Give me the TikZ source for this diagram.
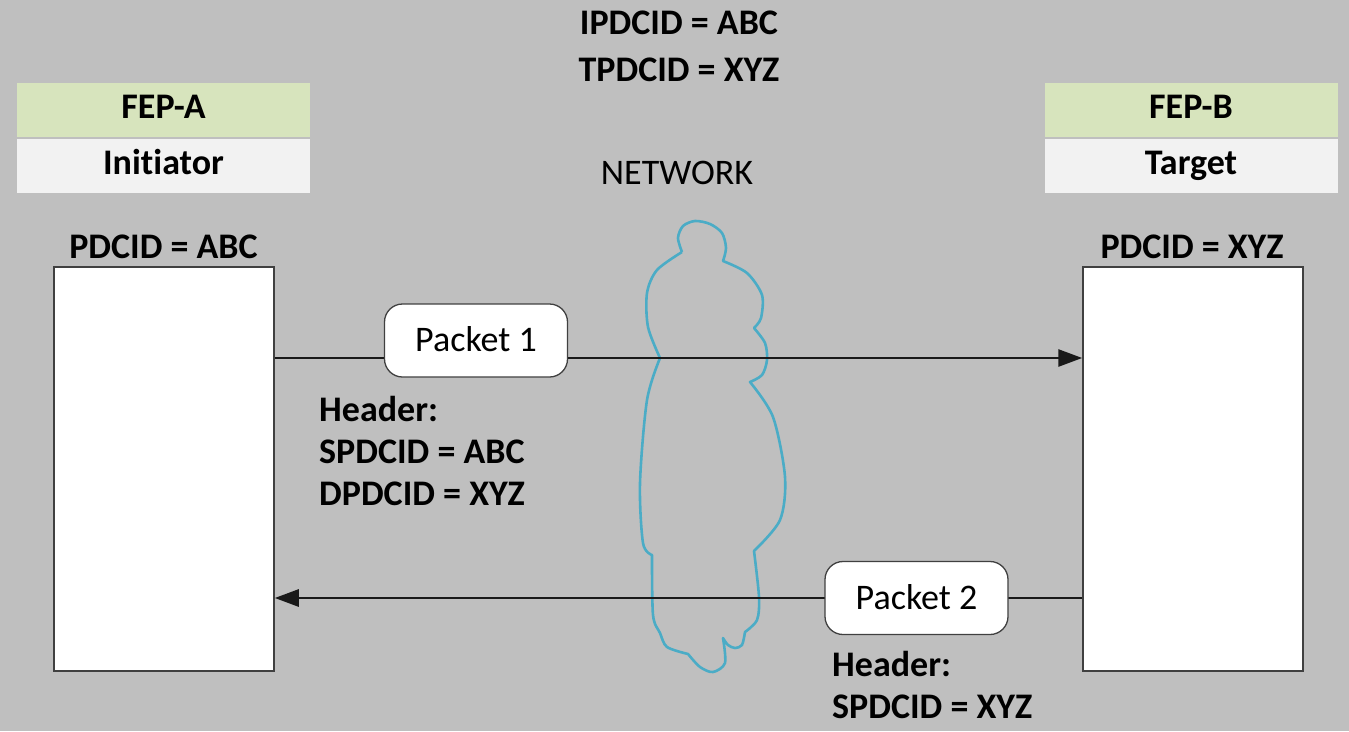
\documentclass[tikz,border=0pt]{standalone}
\usepackage{fontspec}
\setmainfont{Carlito}[RawFeature=-liga]
\usetikzlibrary{arrows.meta}
\definecolor{bg}{HTML}{BFBFBF}
\definecolor{hdrgreen}{HTML}{D7E4BD}
\definecolor{hdrgray}{HTML}{F2F2F2}
\definecolor{cloudblue}{HTML}{4BACC6}
\definecolor{edge}{HTML}{404040}
\begin{document}
\begin{tikzpicture}[x=1pt,y=-1pt,
  txt/.style={font=\fontsize{36}{42}\selectfont, inner sep=0pt},
  btxt/.style={font=\fontsize{36}{42}\selectfont\bfseries, inner sep=0pt},
  hdr/.style={btxt, minimum width=293pt, minimum height=54pt, text height=22pt, text depth=6pt},
  fepbox/.style={draw=edge, line width=1.5pt, fill=white, minimum width=220pt, minimum height=404pt, inner sep=0pt},
  packet/.style={txt, draw=edge, line width=1.3pt, fill=white, rounded corners=18pt, minimum width=183pt, minimum height=73pt, text height=22pt, text depth=0pt},
  conn/.style={line width=2.8pt, draw=black!90, -{Triangle[length=24pt,width=17pt]}},
  cloudline/.style={draw=cloudblue, line width=2.6pt, line join=round}]
\fill[bg] (0,0) rectangle (1349,731);
\useasboundingbox (0,0) rectangle (1349,731);

% headers
\node[btxt, anchor=base] (ip) at (679,34) {IPDCID = ABC};
\node[btxt, anchor=base] (tp) at (679,81) {TPDCID = XYZ};
\node[txt, anchor=base] (net) at (677,184) {NETWORK};

\node[hdr, fill=hdrgreen] (fepa) at (163.5,110) {FEP-A};
\node[hdr, fill=hdrgray] (init) at (163.5,166) {Initiator};
\node[hdr, fill=hdrgreen] (fepb) at (1191,110) {FEP-B};
\node[hdr, fill=hdrgray] (targ) at (1191,166) {Target};

\node[btxt, anchor=base] (pa) at (163.5,258) {PDCID = ABC};
\node[btxt, anchor=base] (pb) at (1192,258) {PDCID = XYZ};

% boxes
\node[fepbox] (lbox) at (164,469) {};
\node[fepbox] (rbox) at (1193,469) {};

% cloud
\draw[cloudline]
  plot[smooth] coordinates {(682,252) (678,238) (683,226) (695,221) (710,224) (722,233) (726,248) (723,261)}
  -- plot[smooth] coordinates {(723,261) (747,273) (762,295) (761,318) (754,328)}
  -- plot[smooth] coordinates {(754,328) (765,343) (767,360) (762,375) (750,382)}
  -- plot[smooth] coordinates {(750,382) (773,417) (785,477) (780,520) (754,551)}
  -- plot[smooth] coordinates {(754,551) (759,597) (757,620) (745,632)}
  -- plot[smooth] coordinates {(745,632) (742,645) (735,648) (728,645) (723,638)}
  -- plot[smooth] coordinates {(723,638) (725,663) (713,672) (700,667) (688,654)}
  -- plot[smooth] coordinates {(688,654) (667,647) (660,633) (653,615) (652,555)}
  -- plot[smooth] coordinates {(652,555) (643,543) (640,483) (647,400) (660,358)}
  -- plot[smooth] coordinates {(660,358) (648,327) (647,293) (657,270) (682,252)};

% packet 1 and arrow
\coordinate (p1y) at (0,358);
\draw[conn] (lbox.east |- p1y) -- (rbox.west |- p1y);
\node[packet] (pk1) at (476,340.5) {Packet 1};

% packet 2 and arrow
\coordinate (p2y) at (0,598);
\draw[conn] (rbox.west |- p2y) -- (lbox.east |- p2y);
\node[packet] (pk2) at (916.5,598) {Packet 2};

% header texts (base anchor = last line)
\node[btxt, anchor=base west, align=left] (h1) at (319,505) {Header:\\SPDCID = ABC\\DPDCID = XYZ};
\node[btxt, anchor=base west, align=left] (h2) at (832,718) {Header:\\SPDCID = XYZ};
\end{tikzpicture}
\end{document}
